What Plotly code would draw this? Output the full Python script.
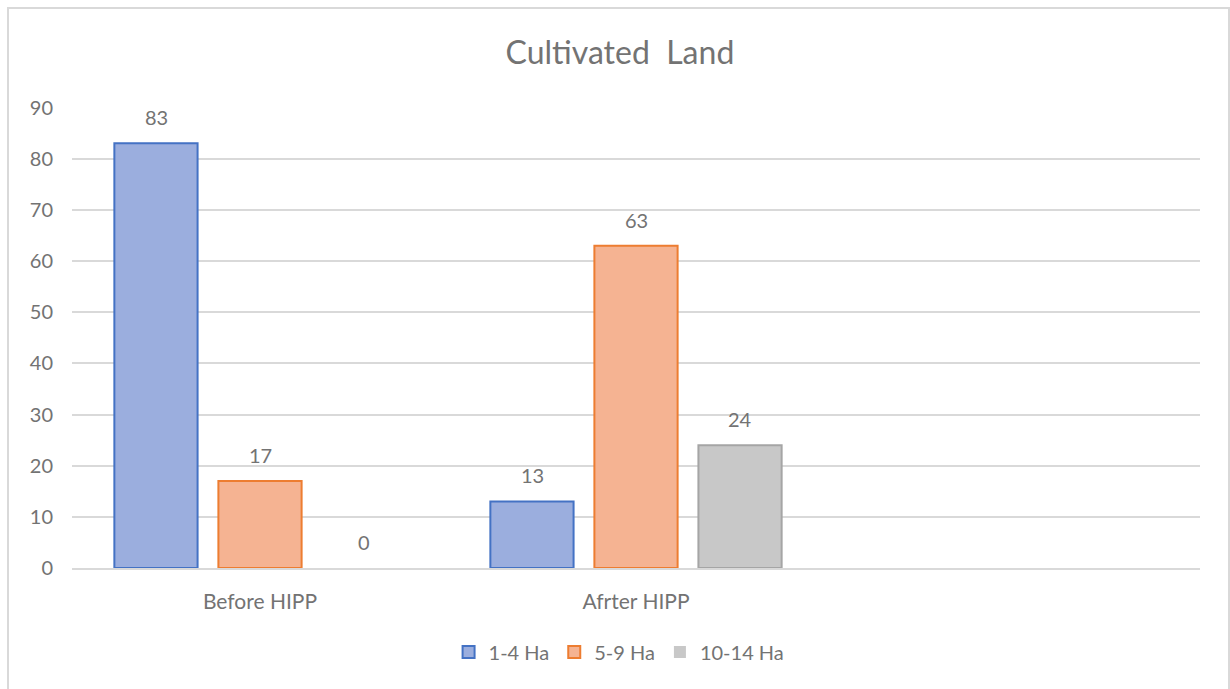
import plotly.graph_objects as go

categories = ["Before HIPP", "Afrter HIPP", " "]
series_names = ["1-4 Ha", "5-9 Ha", "10-14 Ha"]
vals_1_4 = [83, 13, None]
vals_5_9 = [17, 63, None]
vals_10_14 = [0, 24, None]
y_ticks = [0, 10, 20, 30, 40, 50, 60, 70, 80, 90]

fills = ["#9BAEDE", "#F5B392", "#C8C8C8"]
lines = ["#4472C4", "#ED7D31", "#A5A5A5"]
FONT = "Lato, Open Sans, sans-serif"
GRAY = "#737373"
BAR_PITCH_PX = 104

fig = go.Figure()
annotations = []
all_vals = [vals_1_4, vals_5_9, vals_10_14]
for i, (name, vals, fc, lc) in enumerate(zip(series_names, all_vals, fills, lines)):
    fig.add_trace(go.Bar(
        x=categories, y=vals, name=name,
        marker=dict(color=fc, line=dict(color=lc, width=[2 if v else 0 for v in vals])),
    ))
    for c, v in zip(categories, vals):
        if v is None:
            continue
        annotations.append(dict(
            x=c, y=v, xref="x", yref="y", text=str(v), showarrow=False,
            xshift=(i - 1) * BAR_PITCH_PX, yshift=12, yanchor="bottom",
            font=dict(family=FONT, size=20, color=GRAY)))

fig.update_layout(
    width=1230, height=689,
    margin=dict(l=72, r=30, t=107, b=121),
    paper_bgcolor="white", plot_bgcolor="white",
    barmode="group", bargap=0.17, bargroupgap=0.2,
    title=dict(text="Cultivated  Land", x=0.504, xanchor="center", y=0.924, yanchor="middle",
               font=dict(family=FONT, size=32, color=GRAY)),
    font=dict(family=FONT, size=20, color=GRAY),
    xaxis=dict(showline=True, linecolor="#D9D9D9", linewidth=2, ticks="",
               ticklabelstandoff=14,
               tickfont=dict(family=FONT, size=21, color=GRAY), showgrid=False),
    yaxis=dict(range=[0, 90.1], tickvals=y_ticks, showgrid=True, gridcolor="#D9D9D9", gridwidth=2,
               zeroline=False, showline=False, ticks="", ticklen=0, ticklabelstandoff=18,
               tickfont=dict(family=FONT, size=20, color=GRAY)),
    legend=dict(orientation="h", x=0.485, xanchor="center", y=-0.182, yanchor="middle",
                font=dict(family=FONT, size=20, color=GRAY), itemwidth=30, traceorder="normal"),
    annotations=annotations,
    shapes=[dict(type="rect", xref="paper", yref="paper",
                 x0=(8 - 72) / 1128, x1=(1229 - 72) / 1128,
                 y0=(568 - 700) / 461, y1=(568 - 8) / 461,
                 line=dict(color="#D9D9D9", width=2), fillcolor="rgba(0,0,0,0)", layer="below")],
)

fig.write_html("out.html")
